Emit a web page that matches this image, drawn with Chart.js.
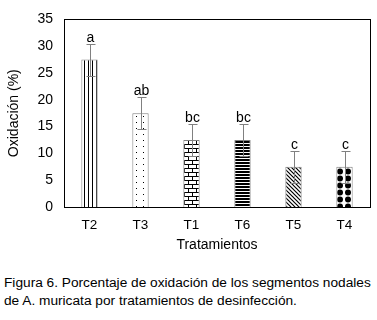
<!DOCTYPE html>
<html>
<head>
<meta charset="utf-8">
<script src="https://cdn.jsdelivr.net/npm/chart.js@4"></script>
<style>
  body { margin: 0; background: #fff; width: 377px; height: 320px; overflow: hidden; }
  #wrap { position: absolute; left: 0; top: 0; width: 377px; height: 260px; }
  #caption { position: absolute; left: 4px; top: 274px; font-family: "Liberation Sans", Arial, sans-serif;
             font-size: 13.7px; line-height: 18px; color: #000; white-space: nowrap; }
</style>
</head>
<body>
<div id="wrap"><canvas id="myChart" width="377" height="260"></canvas></div>
<div id="caption">Figura 6. Porcentaje de oxidación de los segmentos nodales<br>de A. muricata por tratamientos de desinfección.</div>
<script>
var treatments = ['T2', 'T3', 'T1', 'T6', 'T5', 'T4'];
var oxidation = [27.5, 17.5, 12.5, 12.5, 7.5, 7.5];
var errors = [3, 3, 3, 3, 3, 3];
var letters = ['a', 'ab', 'bc', 'bc', 'c', 'c'];
var yTicks = [0, 5, 10, 15, 20, 25, 30, 35];

// little tiles used as fill patterns
function makePattern(w, h, draw) {
    var c = document.createElement('canvas');
    c.width = w; c.height = h;
    var g = c.getContext('2d');
    g.fillStyle = '#fff';
    g.fillRect(0, 0, w, h);
    g.fillStyle = '#000';
    g.strokeStyle = '#000';
    draw(g);
    return document.createElement('canvas').getContext('2d').createPattern(c, 'repeat');
}

var patterns = [
    makePattern(4, 4, function (g) { g.fillRect(0, 0, 1, 4); }),
    makePattern(7, 6, function (g) { g.fillRect(3, 2, 1, 1); }),
    makePattern(8, 8, function (g) {
        g.fillRect(0, 0, 8, 1); g.fillRect(0, 4, 8, 1);
        g.fillRect(0, 0, 1, 4); g.fillRect(4, 4, 1, 4);
    }),
    makePattern(1, 3, function (g) { g.fillRect(0, 0, 1, 2); }),
    makePattern(4, 4, function (g) {
        g.lineWidth = 1.2;
        g.beginPath(); g.moveTo(-1, -1); g.lineTo(5, 5); g.stroke();
        g.beginPath(); g.moveTo(3, -1); g.lineTo(5, 1); g.stroke();
        g.beginPath(); g.moveTo(-1, 3); g.lineTo(1, 5); g.stroke();
    }),
    makePattern(8, 7, function (g) {
        g.beginPath(); g.arc(4, 3.5, 3, 0, Math.PI * 2); g.fill();
    })
];

var errorBars = {
    id: 'errorBars',
    afterDatasetsDraw: function (chart) {
        var ctx = chart.ctx;
        var y = chart.scales.y;
        var meta = chart.getDatasetMeta(0);
        ctx.save();
        ctx.strokeStyle = '#808080';
        ctx.lineWidth = 1;
        meta.data.forEach(function (bar, i) {
            var x = Math.round(bar.x) + 0.5;
            var top = Math.round(y.getPixelForValue(oxidation[i] + errors[i])) + 0.5;
            var bot = Math.round(y.getPixelForValue(oxidation[i] - errors[i])) + 0.5;
            ctx.beginPath();
            ctx.moveTo(x, top); ctx.lineTo(x, bot);
            ctx.moveTo(x - 4, top); ctx.lineTo(x + 5, top);
            ctx.moveTo(x - 4, bot); ctx.lineTo(x + 5, bot);
            ctx.stroke();
            ctx.fillStyle = '#000';
            ctx.font = '14px "Liberation Sans", Arial, sans-serif';
            ctx.textAlign = 'center';
            ctx.textBaseline = 'alphabetic';
            ctx.fillText(letters[i], x, top - 3);
        });
        // frame around the plot
        var a = chart.chartArea;
        ctx.strokeStyle = '#000';
        ctx.strokeRect(Math.round(a.left) + 0.5, Math.round(a.top) + 0.5,
            Math.round(a.right - a.left), Math.round(a.bottom - a.top));
        ctx.restore();
    }
};

var ctx = document.getElementById('myChart').getContext('2d');
var myChart = new Chart(ctx, {
    type: 'bar',
    data: {
        labels: treatments,
        datasets: [{
            data: oxidation,
            backgroundColor: patterns,
            borderColor: '#808080',
            borderWidth: 1,
            barPercentage: 0.32,
            categoryPercentage: 1
        }]
    },
    plugins: [errorBars],
    options: {
        responsive: false,
        animation: false,
        layout: { padding: { left: 0, right: 7, top: 14, bottom: 0 } },
        plugins: {
            legend: { display: false },
            tooltip: { enabled: false }
        },
        scales: {
            x: {
                grid: { display: false, drawTicks: false },
                border: { display: false },
                ticks: { color: '#000', padding: 10,
                    font: { family: 'Liberation Sans', size: 13.5 } },
                title: { display: true, text: 'Tratamientos', color: '#000',
                    padding: { top: 2, bottom: 6 },
                    font: { family: 'Liberation Sans', size: 14 } },
                afterFit: function (s) { s.height = 53; }
            },
            y: {
                min: 0, max: 35,
                afterBuildTicks: function (s) {
                    s.ticks = yTicks.map(function (v) { return { value: v }; });
                },
                grid: { display: false, drawTicks: false },
                border: { display: false },
                ticks: { color: '#000', padding: 11,
                    font: { family: 'Liberation Sans', size: 14 } },
                title: { display: true, text: 'Oxidación (%)', color: '#000',
                    padding: { top: 6, bottom: 4 },
                    font: { family: 'Liberation Sans', size: 14 } },
                afterFit: function (s) { s.width = 64; }
            }
        }
    }
});
</script>
</body>
</html>
